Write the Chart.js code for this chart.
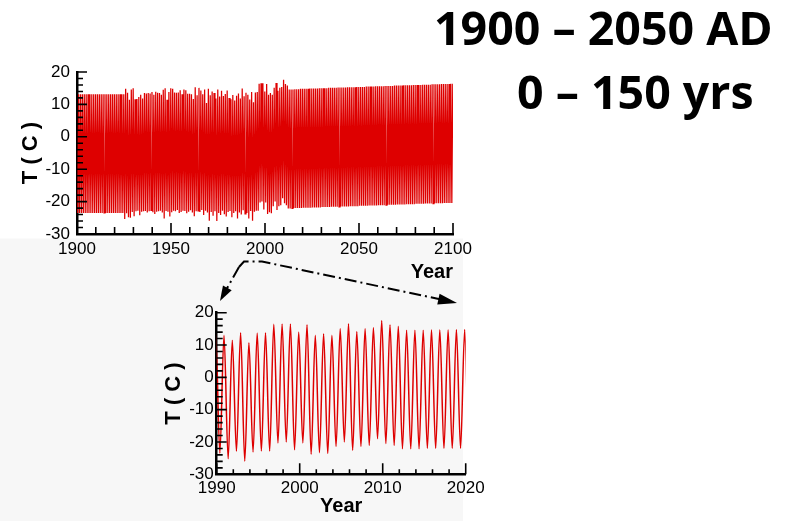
<!DOCTYPE html>
<html>
<head>
<meta charset="utf-8">
<title>T (C) 1900 - 2100</title>
<script src="https://cdn.jsdelivr.net/npm/chart.js@4.4.1/dist/chart.umd.min.js"></script>
<style>
  html, body { margin: 0; padding: 0; background: #fff; }
  #page { position: relative; width: 794px; height: 521px; overflow: hidden; }
  canvas { position: absolute; }
  .head {
    position: absolute;
    font-family: "Open Sans", sans-serif;
    font-weight: 700;
    font-size: 46.5px;
    line-height: 46.5px;
    white-space: nowrap;
    color: #000;
  }
</style>
</head>
<body>
<div id="page">
  <canvas id="backdrop" width="794" height="521" style="left:0;top:0"></canvas>
  <canvas id="century" width="480" height="240" style="left:0;top:50px"></canvas>
  <canvas id="decades" width="340" height="226" style="left:150px;top:295px"></canvas>
  <div class="head" style="left:434px;top:4px">1900 – 2050 AD</div>
  <div class="head" style="left:517px;top:68px">0 – 150 yrs</div>
</div>

<script>
// yearly temperature extremes, one value per year starting at firstYear
const firstYear = 1900;
const summerPhase = 0.88;   // fraction of the year where the warm peak sits
const winterPhase = 0.38;   // fraction of the year where the cold trough sits

const summerPeak = [
  13.1, 13.1, 13.1, 13.1, 13.1, 13.1, 13.1, 13.1, 13.1, 13.1,
  13.1, 13.1, 13.1, 13.1, 13.1, 13.1, 13.1, 13.1, 13.1, 13.1,
  13.1, 13.1, 13.1, 13.1, 13.1, 14.8, 13.6, 11.4, 14.6, 15.0,
  11.6, 11.7, 12.3, 13.0, 11.8, 13.5, 13.4, 13.5, 13.4, 13.8,
  13.0, 13.9, 13.6, 13.5, 13.0, 14.5, 15.0, 11.4, 13.8, 15.0,
  14.8, 13.7, 13.6, 13.7, 14.4, 13.1, 14.6, 14.4, 13.3, 13.3,
  13.1, 11.7, 15.3, 12.8, 15.1, 14.3, 13.1, 14.6, 10.4, 14.8,
  12.8, 14.0, 13.5, 11.8, 14.6, 12.4, 14.2, 12.6, 13.2, 14.3,
  12.0, 11.6, 12.9, 11.2, 12.7, 13.4, 11.8, 14.9, 12.5, 13.6,
  13.0, 11.5, 13.8, 10.7, 13.7, 13.8, 16.4, 16.5, 16.5, 14.0,
  16.3, 13.0, 13.5, 13.0, 15.1, 16.6, 14.2, 15.1, 15.4, 17.6,
  16.3, 15.8, 14.6, 14.6, 14.6, 14.7, 14.7, 14.7, 14.8, 14.8,
  14.8, 14.8, 14.8, 14.9, 14.9, 14.9, 14.9, 14.9, 15.0, 15.0,
  15.0, 15.0, 15.0, 15.1, 15.1, 15.1, 15.1, 15.1, 15.2, 15.2,
  15.2, 15.2, 15.2, 15.3, 15.3, 15.3, 15.3, 15.3, 15.4, 15.4,
  15.4, 15.4, 15.4, 15.5, 15.5, 15.5, 15.5, 15.5, 15.6, 15.6,
  15.6, 15.6, 15.6, 15.7, 15.7, 15.7, 15.7, 15.7, 15.8, 15.8,
  15.8, 15.8, 15.8, 15.9, 15.9, 15.9, 15.9, 15.9, 16.0, 16.0,
  16.0, 16.0, 16.0, 16.1, 16.1, 16.1, 16.1, 16.1, 16.2, 16.2,
  16.2, 16.2, 16.2, 16.3, 16.3, 16.3, 16.3, 16.3, 16.4, 16.4
];

const winterTrough = [
  -23.5, -23.5, -23.5, -23.5, -23.5, -23.5, -23.5, -23.5, -23.5, -23.5,
  -23.5, -23.5, -23.5, -23.5, -23.5, -23.5, -23.5, -23.5, -23.5, -23.5,
  -23.5, -23.5, -23.5, -23.5, -23.5, -25.4, -23.6, -24.8, -25.0, -23.2,
  -24.5, -23.0, -22.8, -24.2, -23.1, -23.0, -22.9, -23.4, -23.0, -22.7,
  -23.3, -23.8, -23.1, -23.0, -22.8, -23.4, -25.2, -22.9, -23.1, -24.6,
  -23.3, -22.8, -23.0, -22.6, -23.5, -23.2, -22.8, -22.9, -23.6, -23.1,
  -22.7, -23.4, -24.5, -23.0, -22.9, -23.2, -22.6, -24.1, -22.8, -23.4,
  -25.9, -23.2, -24.4, -23.0, -26.0, -23.5, -24.1, -22.8, -23.9, -24.6,
  -23.2, -22.9, -24.8, -23.5, -23.0, -25.2, -23.4, -24.0, -22.7, -23.8,
  -23.5, -25.2, -22.9, -25.9, -23.1, -22.8, -22.8, -20.3, -20.0, -22.4,
  -20.3, -23.8, -23.3, -23.6, -21.4, -20.0, -22.6, -21.4, -21.1, -19.0,
  -20.5, -21.1, -22.1, -22.1, -22.1, -22.0, -22.0, -22.0, -22.0, -22.0,
  -21.9, -21.9, -21.9, -21.9, -21.9, -21.8, -21.8, -21.8, -21.8, -21.8,
  -21.7, -21.7, -21.7, -21.7, -21.7, -21.6, -21.6, -21.6, -21.6, -21.6,
  -21.5, -21.5, -21.5, -21.5, -21.5, -21.4, -21.4, -21.4, -21.4, -21.4,
  -21.3, -21.3, -21.3, -21.3, -21.3, -21.2, -21.2, -21.2, -21.2, -21.2,
  -21.1, -21.1, -21.1, -21.1, -21.1, -21.0, -21.0, -21.0, -21.0, -21.0,
  -20.9, -20.9, -20.9, -20.9, -20.9, -20.8, -20.8, -20.8, -20.8, -20.8,
  -20.7, -20.7, -20.7, -20.7, -20.7, -20.6, -20.6, -20.6, -20.6, -20.6,
  -20.5, -20.5, -20.5, -20.5, -20.5, -20.4, -20.4, -20.4, -20.4, -20.4
];

// axis ranges and labelled ticks
const tempRange = [-30, 20];
const centuryRange = [1900, 2100];
const zoomRange = [1990, 2020];
const tempLabels = [-30, -20, -10, 0, 10, 20];
const centuryLabels = [1900, 1950, 2000, 2050, 2100];
const zoomLabels = [1990, 2000, 2010, 2020];

// trough then peak for every year, as {x: fractional year, y: T}
function seasonalPoints(fromYear, toYear) {
  const pts = [];
  summerPeak.forEach((peak, i) => {
    const yr = firstYear + i;
    if (yr < fromYear || yr > toYear) return;
    pts.push({ x: yr + winterPhase, y: winterTrough[i] });
    pts.push({ x: yr + summerPhase, y: peak });
  });
  return pts;
}

// Tecplot-style tick marks pointing into the plot
const inwardTicks = {
  id: 'inwardTicks',
  afterDatasetsDraw(chart, args, opts) {
    const { ctx, chartArea: a, scales: { x, y } } = chart;
    ctx.save();
    ctx.strokeStyle = '#000';
    ctx.lineWidth = 1.6;
    ctx.beginPath();
    x.ticks.forEach(t => {
      const px = x.getPixelForValue(t.value);
      const len = t.label !== '' ? opts.xMajor : opts.xMinor;
      ctx.moveTo(px, a.bottom);
      ctx.lineTo(px, a.bottom - len);
    });
    y.ticks.forEach(t => {
      const py = y.getPixelForValue(t.value);
      const len = t.label !== '' ? opts.yMajor : opts.yMinor;
      ctx.moveTo(a.left, py);
      ctx.lineTo(a.left + len, py);
    });
    ctx.stroke();
    ctx.restore();
  }
};

Chart.defaults.font.family = "'Liberation Sans', Arial, sans-serif";
const tickFont = { size: 17 };
const titleFont = (size) => ({ size, weight: 'bold' });

function makeChart(id, cfg) {
  return new Chart(document.getElementById(id), {
    type: 'line',
    data: {
      datasets: [{
        data: cfg.points,
        borderColor: 'rgb(222,0,0)',
        borderWidth: cfg.lineWidth,
        pointRadius: 0,
        tension: cfg.smooth ? 0.4 : 0,
        cubicInterpolationMode: cfg.smooth ? 'monotone' : 'default'
      }]
    },
    options: {
      responsive: false,
      animation: false,
      events: [],
      layout: { padding: cfg.padding },
      plugins: {
        legend: { display: false },
        tooltip: { enabled: false },
        inwardTicks: cfg.ticks
      },
      scales: {
        x: {
          type: 'linear',
          min: cfg.xRange[0],
          max: cfg.xRange[1],
          grid: { display: false, drawTicks: false },
          border: { display: true, color: '#000', width: 2.5 },
          ticks: {
            stepSize: cfg.xStep,
            autoSkip: false,
            maxRotation: 0,
            padding: cfg.xPad,
            color: '#000',
            font: tickFont,
            callback: v => cfg.xLabels.includes(Math.round(v)) ? String(Math.round(v)) : ''
          },
          title: {
            display: true,
            text: 'Year',
            align: cfg.yearAlign,
            color: '#000',
            font: titleFont(20),
            padding: { top: 0, bottom: cfg.yearPad }
          },
          afterFit: s => { s.height = cfg.xHeight; }
        },
        y: {
          min: tempRange[0],
          max: tempRange[1],
          grid: { display: false, drawTicks: false },
          border: { display: true, color: '#000', width: 2.5 },
          ticks: {
            stepSize: 2,
            autoSkip: false,
            padding: cfg.yPad,
            color: '#000',
            font: tickFont,
            callback: v => tempLabels.includes(Math.round(v)) ? String(Math.round(v)) : ''
          },
          title: {
            display: true,
            text: 'T ( C )',
            color: '#000',
            font: titleFont(22),
            padding: { top: cfg.tPad, bottom: 0 }
          },
          afterFit: s => { s.width = cfg.yWidth; }
        }
      }
    },
    plugins: [inwardTicks]
  });
}

// full record 1900-2100
makeChart('century', {
  points: seasonalPoints(centuryRange[0], centuryRange[1]),
  lineWidth: 1.25,
  smooth: false,
  xRange: centuryRange,
  xStep: 10,
  xLabels: centuryLabels,
  xPad: 5,
  xHeight: 56,
  yWidth: 77,
  yPad: 7,
  tPad: 18,
  yearAlign: 'end',
  yearPad: 6,
  padding: { left: 0, top: 22, right: 27, bottom: 0 },
  ticks: { xMajor: 11, xMinor: 7, yMajor: 10, yMinor: 6 }
});

// close-up of 1990-2020
makeChart('decades', {
  points: seasonalPoints(zoomRange[0] - 1, zoomRange[1]),
  lineWidth: 1.5,
  smooth: true,
  xRange: zoomRange,
  xStep: 2,
  xLabels: zoomLabels,
  xPad: 4,
  xHeight: 46.7,
  yWidth: 66.7,
  yPad: 3,
  tPad: 11,
  yearAlign: 'center',
  yearPad: 3,
  padding: { left: 0, top: 17.7, right: 24.3, bottom: 0 },
  ticks: { xMajor: 11, xMinor: 5, yMajor: 10, yMinor: 6 }
});

// grey panel behind the lower plot and the dash-dot pointers
(function drawBackdrop() {
  const ctx = document.getElementById('backdrop').getContext('2d');
  ctx.fillStyle = '#f7f7f7';
  ctx.fillRect(0, 238.5, 463, 521 - 238.5);

  function arrowHead(fromX, fromY, tipX, tipY, len, half) {
    const ang = Math.atan2(tipY - fromY, tipX - fromX);
    const bx = tipX - len * Math.cos(ang), by = tipY - len * Math.sin(ang);
    ctx.beginPath();
    ctx.moveTo(tipX, tipY);
    ctx.lineTo(bx + half * Math.sin(ang), by - half * Math.cos(ang));
    ctx.lineTo(bx - half * Math.sin(ang), by + half * Math.cos(ang));
    ctx.closePath();
    ctx.fill();
  }

  ctx.strokeStyle = '#000';
  ctx.fillStyle = '#000';
  ctx.lineWidth = 2;
  ctx.setLineDash([12, 4, 2, 4]);
  ctx.beginPath();
  ctx.moveTo(239, 267);
  ctx.lineTo(244, 261.5);
  ctx.lineTo(262, 261.5);
  ctx.lineTo(441, 299.5);
  ctx.stroke();
  ctx.beginPath();
  ctx.moveTo(239, 267);
  ctx.lineTo(226, 290);
  ctx.stroke();
  ctx.setLineDash([]);
  arrowHead(262, 261.5, 457, 303, 19, 5.5);
  arrowHead(239, 267, 220, 301, 15, 5);
})();
</script>
</body>
</html>
